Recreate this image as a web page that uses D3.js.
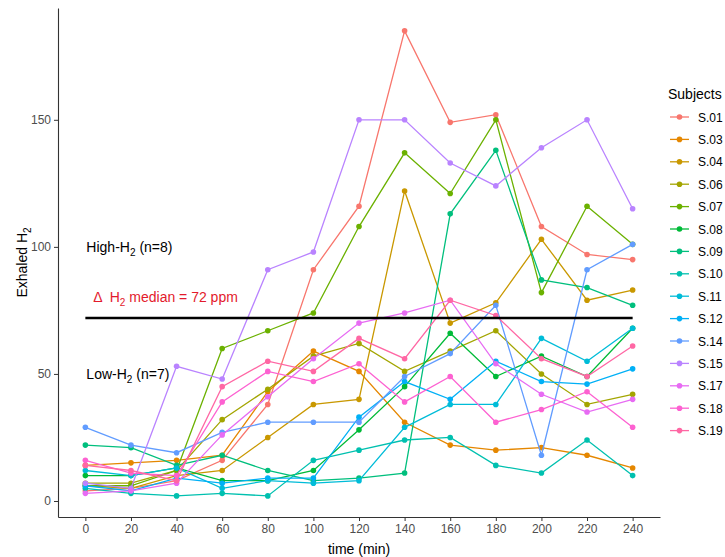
<!DOCTYPE html>
<html>
<head>
<meta charset="utf-8">
<script src="https://cdn.jsdelivr.net/npm/d3@7"></script>
<style>
  body { margin: 0; background: #fff; }
  text { font-family: "Liberation Sans", Arial, sans-serif; }
</style>
</head>
<body>
<div id="graph1"></div>
<script>
// time points (min)
var times = [0, 20, 40, 60, 80, 100, 120, 140, 160, 180, 200, 220, 240];

var subjects = ["S.01", "S.03", "S.04", "S.06", "S.07", "S.08", "S.09", "S.10",
                "S.11", "S.12", "S.14", "S.15", "S.17", "S.18", "S.19"];

// exhaled H2 per subject, one value per time point
var s01 = [4, 5, 8, 16, 38, 91, 116, 185, 149, 152, 108, 97, 95];
var s03 = [14, 15, 16, 18, 43, 59, 51, 31, 22, 20, 21, 18, 13];
var s04 = [6, 5, 10, 12, 25, 38, 40, 122, 70, 78, 103, 79, 83];
var s06 = [7, 7, 12, 32, 44, 57, 62, 51, 59, 67, 50, 38, 42];
var s07 = [6, 6, 12, 60, 67, 74, 108, 137, 121, 150, 82, 116, 101];
var s08 = [10, 10, 13, 8, 8, 12, 28, 45, 66, 49, 57, 49, 68];
var s09 = [22, 21, 14, 18, 12, 8, 9, 11, 113, 138, 87, 84, 77];
var s10 = [5, 3, 2, 3, 2, 16, 20, 24, 25, 14, 11, 24, 10];
var s11 = [12, 10, 13, 5, 8, 7, 8, 29, 38, 38, 64, 55, 68];
var s12 = [6, 4, 9, 7, 9, 9, 33, 47, 40, 55, 47, 46, 52];
var s14 = [29, 22, 19, 27, 31, 31, 31, 49, 58, 77, 18, 91, 101];
var s15 = [7, 5, 53, 48, 91, 98, 150, 150, 133, 124, 139, 150, 115];
var s17 = [3, 4, 7, 26, 41, 56, 70, 74, 79, 54, 42, 35, 40];
var s18 = [16, 11, 10, 39, 51, 47, 54, 39, 49, 31, 36, 43, 29];
var s19 = [14, 12, 8, 45, 55, 51, 64, 56, 79, 73, 56, 49, 61];

var values = [s01, s03, s04, s06, s07, s08, s09, s10, s11, s12, s14, s15, s17, s18, s19];

var medianH2 = 72;
var xTicks = [0, 20, 40, 60, 80, 100, 120, 140, 160, 180, 200, 220, 240];
var yTicks = [0, 50, 100, 150];

// ggplot default hue palette for 15 levels
var colors = ["#F8766D", "#E58700", "#C99800", "#A3A500", "#6BB100", "#00BA38", "#00BF7D", "#00C0AF",
              "#00BCD8", "#00B0F6", "#619CFF", "#B983FF", "#E76BF3", "#FD61D1", "#FF67A4"];

var margin = {top: 8, right: 65, bottom: 40, left: 58},
    width = 602,
    height = 509;

var x = d3.scaleLinear()
    .domain([-12, 252])
    .range([0, width]);

var y = d3.scaleLinear()
    .domain([-6.3, 194])
    .range([height, 0]);

var color = d3.scaleOrdinal()
    .domain(subjects)
    .range(colors);

var data = subjects.map(function(s, i) {
    return {name: s, points: times.map(function(t, j) { return {time: t, value: values[i][j]}; })};
});

var line = d3.line()
    .x(function(d) { return x(d.time); })
    .y(function(d) { return y(d.value); });

var svg = d3.select("#graph1").append("svg")
    .attr("width", 725)
    .attr("height", 557)
    .append("g")
    .attr("transform", "translate(" + margin.left + "," + margin.top + ")");

// subject lines
var series = svg.selectAll(".series")
    .data(data)
    .enter().append("g")
    .attr("class", "series");

series.append("path")
    .attr("d", function(d) { return line(d.points); })
    .attr("fill", "none")
    .attr("stroke", function(d) { return color(d.name); })
    .attr("stroke-width", 1.3);

series.selectAll("circle")
    .data(function(d) { return d.points.map(function(p) { return {name: d.name, time: p.time, value: p.value}; }); })
    .enter().append("circle")
    .attr("cx", function(d) { return x(d.time); })
    .attr("cy", function(d) { return y(d.value); })
    .attr("r", 2.8)
    .attr("fill", function(d) { return color(d.name); });

// median line
svg.append("line")
    .attr("x1", x(0))
    .attr("x2", x(240))
    .attr("y1", y(medianH2))
    .attr("y2", y(medianH2))
    .attr("stroke", "#000")
    .attr("stroke-width", 2.6);

// annotations
svg.append("text")
    .attr("x", x(0) + 1)
    .attr("y", y(100) + 5)
    .attr("font-size", 14)
    .text("High-H")
    .append("tspan").attr("font-size", 10).attr("dy", 4).text("2")
    .select(function() { return this.parentNode; })
    .append("tspan").attr("dy", -4).text(" (n=8)");

svg.append("text")
    .attr("x", x(0) + 8)
    .attr("y", y(medianH2) - 16)
    .attr("font-size", 14)
    .attr("fill", "#E31A2C")
    .attr("xml:space", "preserve")
    .text("\u0394  H")
    .append("tspan").attr("font-size", 10).attr("dy", 4).text("2")
    .select(function() { return this.parentNode; })
    .append("tspan").attr("dy", -4).text(" median = 72 ppm");

svg.append("text")
    .attr("x", x(0) + 1)
    .attr("y", y(50) + 5)
    .attr("font-size", 14)
    .text("Low-H")
    .append("tspan").attr("font-size", 10).attr("dy", 4).text("2")
    .select(function() { return this.parentNode; })
    .append("tspan").attr("dy", -4).text(" (n=7)");

// Add the X Axis
var xAxis = svg.append("g")
    .attr("transform", "translate(0," + height + ")")
    .call(d3.axisBottom(x).tickValues(xTicks).tickSize(4).tickSizeOuter(0));

// Add the Y Axis
var yAxis = svg.append("g")
    .call(d3.axisLeft(y).tickValues(yTicks).tickSize(4).tickSizeOuter(0));

[xAxis, yAxis].forEach(function(a) {
    a.select(".domain").attr("stroke", "#333").attr("stroke-width", 1.1);
    a.selectAll(".tick line").attr("stroke", "#333");
    a.selectAll(".tick text")
        .attr("fill", "#4d4d4d")
        .attr("font-size", 12)
        .style("font-family", "'Liberation Sans', Arial, sans-serif");
});

// axis titles
svg.append("text")
    .attr("x", width / 2)
    .attr("y", height + 37)
    .attr("text-anchor", "middle")
    .attr("font-size", 14)
    .text("time (min)");

svg.append("text")
    .attr("transform", "translate(" + (-31) + "," + (height / 2) + ") rotate(-90)")
    .attr("text-anchor", "middle")
    .attr("font-size", 14)
    .text("Exhaled H")
    .append("tspan").attr("font-size", 10).attr("dy", 4).text("2");

// legend
var legend = d3.select("svg").append("g")
    .attr("transform", "translate(668,0)");

legend.append("text")
    .attr("x", 0)
    .attr("y", 99)
    .attr("font-size", 14)
    .text("Subjects");

var item = legend.selectAll(".item")
    .data(subjects)
    .enter().append("g")
    .attr("class", "item")
    .attr("transform", function(d, i) { return "translate(0," + (117 + i * 22.4) + ")"; });

item.append("line")
    .attr("x1", 2).attr("x2", 21)
    .attr("stroke", function(d) { return color(d); })
    .attr("stroke-width", 1.3);

item.append("circle")
    .attr("cx", 11.5)
    .attr("r", 2.8)
    .attr("fill", function(d) { return color(d); });

item.append("text")
    .attr("x", 30)
    .attr("y", 4.5)
    .attr("font-size", 12)
    .text(function(d) { return d; });
</script>
</body>
</html>
